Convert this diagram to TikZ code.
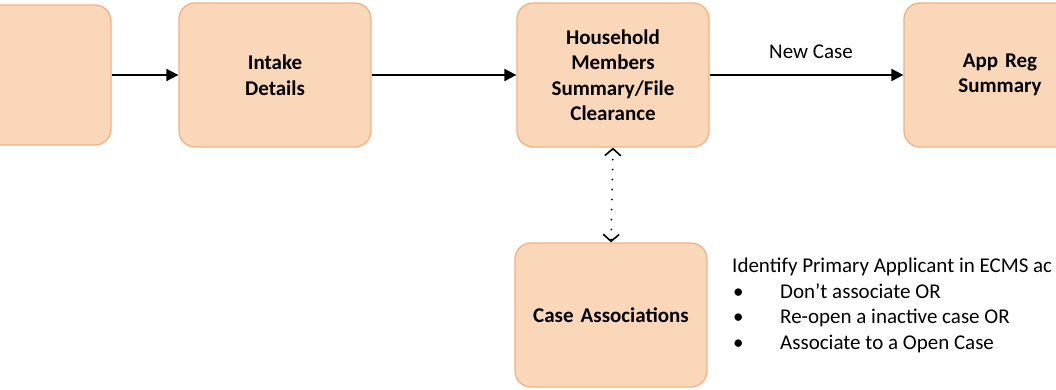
\documentclass[tikz,border=0pt]{standalone}
\usepackage{fontspec}
\setmainfont{Carlito}
\usetikzlibrary{arrows.meta}
\definecolor{boxfill}{RGB}{251,215,185}
\definecolor{boxline}{RGB}{244,177,131}
\begin{document}
\begin{tikzpicture}[x=1pt,y=-1pt,
  stepbox/.style={draw=boxline, fill=boxfill, line width=1.3pt, rounded corners=16pt,
    minimum width=192pt, minimum height=144pt, inner sep=0pt, align=center, text width=185pt,
    font=\fontsize{21}{25.5}\selectfont\bfseries},
  flow/.style={line width=2pt, -{Triangle[length=12pt,width=12pt]}},
  dotline/.style={line width=2pt, line cap=round, dash pattern=on 0pt off 10pt,
    {Straight Barb[length=7pt,width=16pt,line width=1.6pt]}-{Straight Barb[length=7pt,width=16pt,line width=1.6pt]}},
  plaintext/.style={inner sep=0pt, font=\fontsize{21}{25.5}\selectfont}
]
\useasboundingbox (0,0) rectangle (1056,389);
\clip (0,0) rectangle (1056,389);
\node[stepbox, minimum height=140pt] (b1) at (15,75) {};
\node[stepbox] (b2) at (275,75) {Intake\\Details};
\node[stepbox] (b3) at (613,75) {Household\\Members\\Summary/File\\Clearance};
\node[stepbox] (b4) at (1000,75) {App Reg\\Summary};
\node[stepbox] (ca) at (611,315) {Case Associations};
\draw[flow] (b1) -- (b2);
\draw[flow] (b2) -- (b3);
\draw[flow] (b3) -- node[plaintext, anchor=base, yshift=17pt, xshift=4.5pt] (nc) {New Case} (b4);
\draw[dotline] (b3.south) -- (ca.north);
\node[plaintext, anchor=base west] (t0) at (732,272) {Identify Primary Applicant in ECMS ac};
\node[plaintext, anchor=base west] (t1) at (733,298) {\makebox[47pt][l]{\textbullet}Don’t associate OR};
\node[plaintext, anchor=base west] (t2) at (733,323.5) {\makebox[47pt][l]{\textbullet}Re-open a inactive case OR};
\node[plaintext, anchor=base west] (t3) at (733,349) {\makebox[47pt][l]{\textbullet}Associate to a Open Case};
\end{tikzpicture}
\end{document}
